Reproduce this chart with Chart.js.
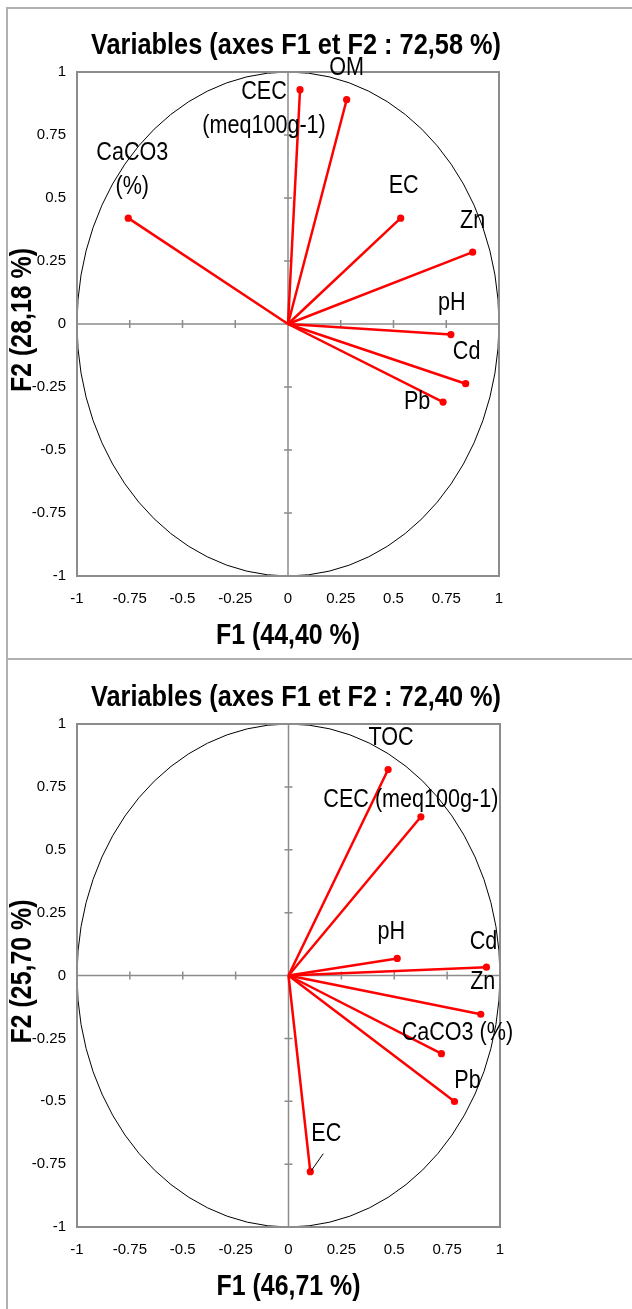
<!DOCTYPE html>
<html>
<head>
<meta charset="utf-8">
<script src="https://cdn.jsdelivr.net/npm/chart.js@4/dist/chart.umd.min.js"></script>
<style>
  body { margin: 0; background: #fff; width: 632px; height: 1309px; overflow: hidden; position: relative; }
  #frame { position: absolute; left: 6px; top: 7px; width: 700px; height: 1400px; border-left: 2px solid #b0b0b0; border-top: 2px solid #b0b0b0; }
  #sep { position: absolute; left: 6px; top: 658px; width: 700px; height: 0; border-top: 2px solid #b0b0b0; }
  canvas { position: absolute; left: 0; }
  #c1 { top: 0; }
  #c2 { top: 659px; }
</style>
</head>
<body>
<div id="frame"></div>
<div id="sep"></div>
<canvas id="c1" width="632" height="659"></canvas>
<canvas id="c2" width="632" height="650"></canvas>
<script>
// panel 1
const vars1 = [['CaCO3', '(%)'], ['CEC', '(meq100g-1)'], ['OM'], ['EC'], ['Zn'], ['pH'], ['Cd'], ['Pb']];
const f1_a = [-0.757, 0.057, 0.278, 0.534, 0.875, 0.772, 0.842, 0.735];
const f2_a = [0.42, 0.93, 0.89, 0.42, 0.285, -0.042, -0.237, -0.31];
const title1 = 'Variables (axes F1 et F2 : 72,58 %)';
const xTitle1 = 'F1 (44,40 %)';
const yTitle1 = 'F2 (28,18 %)';

// panel 2
const vars2 = [['TOC'], ['CEC (meq100g-1)'], ['pH'], ['Cd'], ['Zn'], ['CaCO3 (%)'], ['Pb'], ['EC']];
const f1_b = [0.471, 0.626, 0.514, 0.936, 0.909, 0.723, 0.785, 0.103];
const f2_b = [0.819, 0.631, 0.068, 0.033, -0.154, -0.311, -0.501, -0.78];
const title2 = 'Variables (axes F1 et F2 : 72,40 %)';
const xTitle2 = 'F1 (46,71 %)';
const yTitle2 = 'F2 (25,70 %)';

// label offsets in px from the point (label placement only)
const offs1 = [[4, -65], [-36, 2], [0, -32], [3, -32], [0, -31], [1, -32], [1, -32], [-26, 0]];
const offs2 = [[3, -32], [-10, -17], [-6, -27], [-3, -25], [2, -32], [16, -21], [13, -21], [16, -38]];

const FONT = "'Liberation Sans', Arial, sans-serif";
const RED = '#ff0000';
const GREY = '#8c8c8c';

// narrow-looking text, like the original export
function narrowText(ctx, s, x, y, sx) {
  ctx.save();
  ctx.translate(x, y);
  ctx.scale(sx, 1);
  ctx.fillText(s, 0, 0);
  ctx.restore();
}

function makeChart(id, names, xs, ys, offs, title, xTitle, yTitle, pad, leader) {
  const datasets = names.map((n, i) => ({
    label: n.join(' '),
    data: [{ x: 0, y: 0 }, { x: xs[i], y: ys[i] }],
    showLine: true,
    borderColor: RED,
    backgroundColor: RED,
    borderWidth: 2.5,
    pointRadius: [0, 3.6],
    pointBorderWidth: 0,
    pointHoverRadius: [0, 3.6]
  }));

  const circlePlugin = {
    id: 'circle',
    beforeDatasetsDraw(chart) {
      const { ctx, chartArea: a, scales: { x, y } } = chart;
      const cx = x.getPixelForValue(0), cy = y.getPixelForValue(0);
      ctx.save();
      // unit circle
      ctx.strokeStyle = '#000';
      ctx.lineWidth = 1;
      ctx.beginPath();
      ctx.ellipse(cx, cy, x.getPixelForValue(1) - cx, cy - y.getPixelForValue(1), 0, 0, Math.PI * 2);
      ctx.stroke();
      // axes through origin with cross ticks
      ctx.strokeStyle = GREY;
      ctx.lineWidth = 1.5;
      ctx.beginPath();
      ctx.moveTo(a.left, cy); ctx.lineTo(a.right, cy);
      ctx.moveTo(cx, a.top); ctx.lineTo(cx, a.bottom);
      x.ticks.forEach(t => {
        const px = x.getPixelForValue(t.value);
        ctx.moveTo(px, cy - 4); ctx.lineTo(px, cy + 4);
      });
      y.ticks.forEach(t => {
        const py = y.getPixelForValue(t.value);
        ctx.moveTo(cx - 4, py); ctx.lineTo(cx + 4, py);
      });
      ctx.stroke();
      // plot frame
      ctx.lineWidth = 2;
      ctx.strokeRect(a.left, a.top, a.right - a.left, a.bottom - a.top);
      ctx.restore();
    },
    afterDatasetsDraw(chart) {
      const { ctx, chartArea: a, scales: { x, y } } = chart;
      ctx.save();
      ctx.fillStyle = '#000';
      ctx.textAlign = 'center';
      ctx.textBaseline = 'middle';
      ctx.font = '26px ' + FONT;
      names.forEach((lines, i) => {
        const px = x.getPixelForValue(xs[i]) + offs[i][0];
        const py = y.getPixelForValue(ys[i]) + offs[i][1];
        lines.forEach((s, k) => narrowText(ctx, s, px, py + k * 34, 0.83));
      });
      if (leader !== undefined) {
        const px = x.getPixelForValue(xs[leader]), py = y.getPixelForValue(ys[leader]);
        ctx.strokeStyle = '#000';
        ctx.lineWidth = 1;
        ctx.beginPath();
        ctx.moveTo(px + 1, py - 1);
        ctx.lineTo(px + 13, py - 18);
        ctx.stroke();
      }
      // titles
      ctx.font = 'bold 30px ' + FONT;
      narrowText(ctx, title, 296, a.top - 26, 0.845);
      narrowText(ctx, xTitle, (a.left + a.right) / 2, a.bottom + 60, 0.83);
      ctx.translate(23, (a.top + a.bottom) / 2 - 4);
      ctx.rotate(-Math.PI / 2);
      narrowText(ctx, yTitle, 0, 0, 0.83);
      ctx.restore();
    }
  };

  const tickFmt = v => String(v);

  return new Chart(document.getElementById(id), {
    type: 'scatter',
    data: { datasets },
    options: {
      responsive: false,
      animation: false,
      layout: { padding: pad },
      plugins: { legend: { display: false }, tooltip: { enabled: false } },
      scales: {
        x: {
          min: -1, max: 1,
          grid: { display: false, drawTicks: false },
          border: { display: false },
          ticks: { stepSize: 0.25, padding: 14, color: '#000', font: { family: FONT, size: 15 }, callback: tickFmt, maxRotation: 0, autoSkip: false },
          afterFit: s => { s.height = 30; }
        },
        y: {
          min: -1, max: 1,
          grid: { display: false, drawTicks: false },
          border: { display: false },
          ticks: { stepSize: 0.25, padding: 11, color: '#000', font: { family: FONT, size: 15 }, callback: tickFmt, autoSkip: false },
          afterFit: s => { s.width = 70; }
        }
      }
    },
    plugins: [circlePlugin]
  });
}

makeChart('c1', vars1, f1_a, f2_a, offs1, title1, xTitle1, yTitle1, { left: 7, top: 72, right: 133, bottom: 53 });
makeChart('c2', vars2, f1_b, f2_b, offs2, title2, xTitle2, yTitle2, { left: 7, top: 65, right: 132, bottom: 52 }, 7);
</script>
</body>
</html>
